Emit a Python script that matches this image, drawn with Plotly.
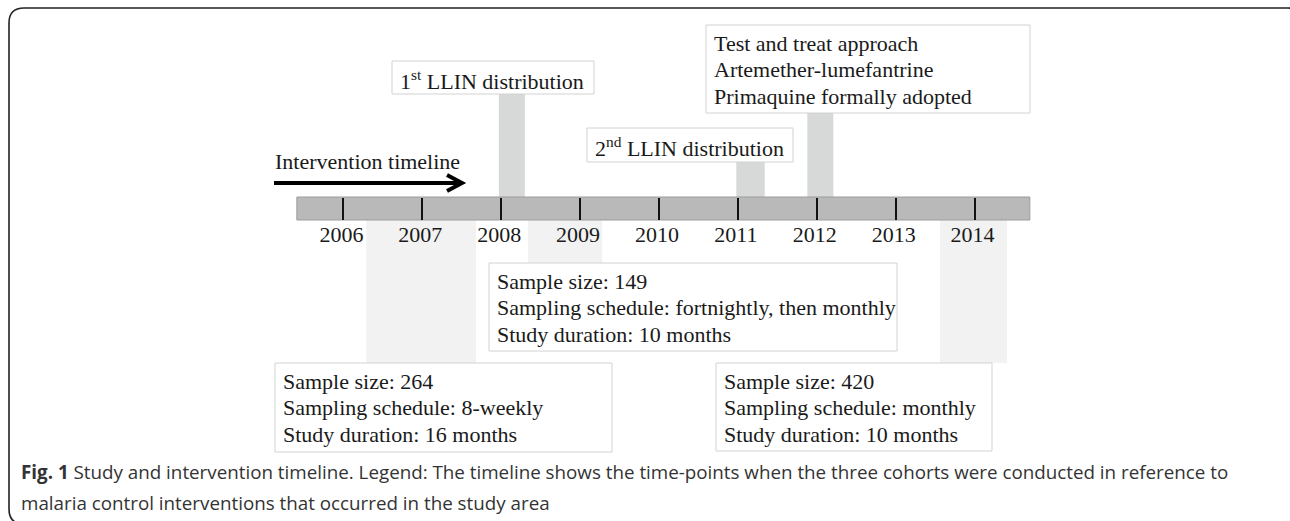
import plotly.graph_objects as go

W, H = 1290, 521

# ---------------- data ----------------
years = [2006, 2007, 2008, 2009, 2010, 2011, 2012, 2013, 2014]
timeline_start = 2005.41
timeline_end = 2014.70

intervention_lines = [
    ["1<sup>st</sup> LLIN distribution"],
    ["2<sup>nd</sup> LLIN distribution"],
    ["Test and treat approach", "Artemether-lumefantrine", "Primaquine formally adopted"],
]
intervention_start = [2007.97, 2010.98, 2011.88]
intervention_end = [2008.30, 2011.34, 2012.21]

cohort_start = [2006.29, 2008.34, 2013.56]
cohort_end = [2007.68, 2009.28, 2014.41]
cohort_sample_size = [264, 149, 420]
cohort_schedule = ["8-weekly", "fortnightly, then monthly", "monthly"]
cohort_duration_months = [16, 10, 10]

caption_lines = [
    "<b>Fig. 1</b> Study and intervention timeline. Legend: The timeline shows the time-points when the three cohorts were conducted in reference to",
    "malaria control interventions that occurred in the study area",
]

# ---------------- layout (pixels) ----------------
bar_top, bar_bottom = 197, 220
intervention_box = [(392, 61, 594, 94), (587, 128, 793, 162), (706, 25, 1030, 113)]
cohort_box = [(275, 363, 612, 452), (489, 263, 897, 351), (716, 363, 992, 451)]

SERIF = "Liberation Serif"
TXT = "#1a1a1a"
FS = 22

px_per_year = 78.9
x_center_px = 659
x_range = [2010 - x_center_px / px_per_year, 2010 + (W - x_center_px) / px_per_year]

shapes = []
annotations = []

# outer frame (rounded rectangle)
fx0, fy0, fx1, fy1, r = 9, 8, 1303, 524, 15
shapes.append(dict(
    type="path", xref="x2", yref="y", layer="above",
    path=(f"M {fx0+r},{fy0} H {fx1-r} Q {fx1},{fy0} {fx1},{fy0+r} V {fy1-r} "
          f"Q {fx1},{fy1} {fx1-r},{fy1} H {fx0+r} Q {fx0},{fy1} {fx0},{fy1-r} "
          f"V {fy0+r} Q {fx0},{fy0} {fx0+r},{fy0} Z"),
    line=dict(color="#222222", width=1.6),
))

# cohort bands under the timeline
for i in range(3):
    shapes.append(dict(type="rect", xref="x", yref="y", layer="below",
                       x0=cohort_start[i], x1=cohort_end[i],
                       y0=bar_bottom, y1=cohort_box[i][1],
                       fillcolor="#f2f2f2", line=dict(width=0)))

# intervention connectors above the timeline
for i in range(3):
    shapes.append(dict(type="rect", xref="x", yref="y", layer="below",
                       x0=intervention_start[i], x1=intervention_end[i],
                       y0=intervention_box[i][3], y1=bar_top,
                       fillcolor="#d7d8d8", line=dict(width=0)))

# timeline bar
shapes.append(dict(type="rect", xref="x", yref="y", layer="below",
                   x0=timeline_start, x1=timeline_end, y0=bar_top, y1=bar_bottom,
                   fillcolor="#b9b9b9", line=dict(color="#9c9c9c", width=1)))

# boxes
def add_box(box, lines):
    x0, y0, x1, y1 = box
    shapes.append(dict(type="rect", xref="x2", yref="y", layer="below",
                       x0=x0, x1=x1, y0=y0, y1=y1,
                       fillcolor="white", line=dict(color="#d2d2d2", width=1)))
    for k, t in enumerate(lines):
        annotations.append(dict(xref="x2", yref="y", x=x0 + 6, y=y0 + 18.5 + k * 26.3,
                                text=t, showarrow=False, xanchor="left", yanchor="middle",
                                font=dict(family=SERIF, size=FS, color=TXT)))

for i in range(3):
    add_box(intervention_box[i], intervention_lines[i])
for i in range(3):
    add_box(cohort_box[i], [
        f"Sample size: {cohort_sample_size[i]}",
        f"Sampling schedule: {cohort_schedule[i]}",
        f"Study duration: {cohort_duration_months[i]} months",
    ])

# intervention timeline arrow
ay = 183
shapes.append(dict(type="line", xref="x2", yref="y", x0=274, x1=459, y0=ay, y1=ay,
                   line=dict(color="#000000", width=4)))
shapes.append(dict(type="path", xref="x2", yref="y",
                   path=f"M 447,{ay-8} L 462,{ay} L 447,{ay+8}",
                   line=dict(color="#000000", width=4)))
annotations.append(dict(xref="x2", yref="y", x=273, y=161, text="Intervention timeline",
                        showarrow=False, xanchor="left", yanchor="middle",
                        font=dict(family=SERIF, size=FS, color=TXT)))

# caption
for k, t in enumerate(caption_lines):
    annotations.append(dict(xref="x2", yref="y", x=19, y=472 + k * 31, text=t,
                            showarrow=False, xanchor="left", yanchor="middle",
                            font=dict(family="Open Sans", size=18.8, color="#333333")))

fig = go.Figure()
fig.add_trace(go.Scatter(x=years, y=[bar_bottom] * len(years), mode="markers",
                         marker=dict(opacity=0), hoverinfo="skip", showlegend=False,
                         xaxis="x", yaxis="y"))
fig.add_trace(go.Scatter(x=[0, W], y=[0, H], mode="markers", marker=dict(opacity=0),
                         hoverinfo="skip", showlegend=False, xaxis="x2", yaxis="y"))

fig.update_layout(
    width=W, height=H, margin=dict(l=0, r=0, t=0, b=0),
    paper_bgcolor="white", plot_bgcolor="white", showlegend=False,
    xaxis=dict(range=x_range, domain=[0, 1], anchor="free", position=1 - bar_bottom / H,
               tickmode="array", tickvals=years, ticktext=[str(y) for y in years],
               ticks="inside", ticklen=22, tickwidth=2, tickcolor="#111111",
               showline=False, showgrid=False, zeroline=False, ticklabelshift=-2,
               ticklabelstandoff=-1,
               tickfont=dict(family=SERIF, size=FS, color=TXT), fixedrange=True),
    xaxis2=dict(range=[0, W], overlaying="x", visible=False, anchor="y", fixedrange=True),
    yaxis=dict(range=[H, 0], domain=[0, 1], visible=False, fixedrange=True),
    shapes=shapes, annotations=annotations,
)

fig.write_html("out.html", config={"displayModeBar": False},
               post_script="document.body.style.margin='0px';document.body.style.overflow='hidden';")
